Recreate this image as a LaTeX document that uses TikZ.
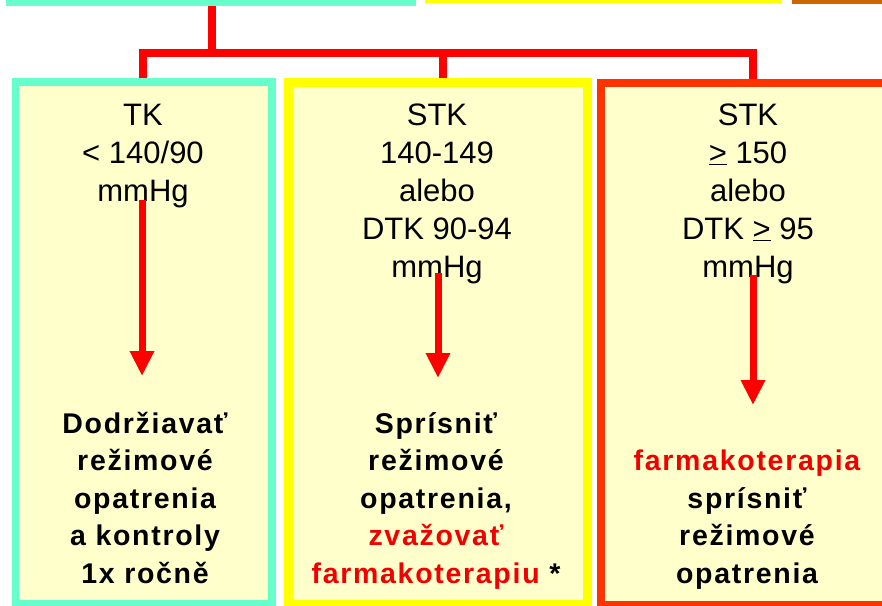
\documentclass[tikz,border=0pt]{standalone}
\usepackage{fontspec}
\setmainfont{Liberation Sans}
\newfontfamily\widefont{Liberation Sans}[LetterSpace=6]
\usetikzlibrary{arrows.meta}
\definecolor{boxfill}{HTML}{FFFFCC}
\definecolor{aqua}{HTML}{66FFCC}
\definecolor{lemon}{HTML}{FFFF00}
\definecolor{scarlet}{HTML}{FF3300}
\definecolor{rust}{HTML}{CC6600}
\definecolor{linered}{HTML}{FF0000}
\definecolor{textred}{HTML}{F00000}

\begin{document}
\begin{tikzpicture}[x=1pt,y=-1pt,
  panel/.style={draw, fill=boxfill, rectangle, anchor=north west,
                inner sep=0pt, outer sep=0pt, minimum height=522pt},
  conn/.style={draw=linered, line width=8pt, line join=miter},
  flow/.style={draw=linered, line width=7pt,
               -{Triangle[length=25pt,width=23pt]}},
  cond/.style={anchor=north, inner sep=0pt, align=center,
               font=\fontsize{31}{38}\selectfont},
  act/.style={anchor=north, inner sep=0pt, align=center,
              font=\widefont\bfseries\fontsize{28.5}{37.5}\selectfont},
  hot/.style={color=textred}
]
\useasboundingbox (0,0) rectangle (882,605);
\clip (0,0) rectangle (882,605);

% lower edges of the boxes of the level above
\fill[aqua]  (6,-4)   rectangle (416,6);
\fill[lemon] (425,-4) rectangle (782,3);
\fill[rust]  (792,-4) rectangle (890,4);

% connection points
\coordinate (top) at (212,6);
\coordinate (jn)  at (212,53);
\coordinate (b1)  at (143,84);
\coordinate (b2)  at (443,84);
\coordinate (b3)  at (753,84);

% tree of connectors
\draw[conn] (top) -- (jn);
\draw[conn] (b1) -- (b1 |- jn) -- (b3 |- jn) -- (b3);
\draw[conn] (b2 |- jn) -- (b2);

% the three boxes
\node[panel, draw=aqua,    line width=7.5pt, minimum width=256.5pt] (box1) at (15.5,82) {};
\node[panel, draw=lemon,   line width=9pt,   minimum width=299pt]   (box2) at (288,82) {};
\node[panel, draw=scarlet, line width=8pt,   minimum width=400pt]   (box3) at (601,82.5) {};

% conditions
\node[cond] (c1) at (143,95) {\rule{0pt}{30pt}TK\\< 140/90\\mmHg};
\node[cond] (c2) at (437,95) {\rule{0pt}{30pt}STK\\140-149\\alebo\\DTK 90-94\\mmHg};
\node[cond] (c3) at (748,95) {\rule{0pt}{30pt}STK\\\underline{>} 150\\alebo\\DTK \underline{>} 95\\mmHg};

% recommended actions
\node[act] (r1) at (145,403) {\rule{0pt}{30pt}Dodržiavať\\režimové\\opatrenia\\a kontroly\\1x ročně};
\node[act] (r2) at (436,403) {\rule{0pt}{30pt}Sprísniť\\režimové\\opatrenia,\\{\color{textred}zvažovať}\\{\color{textred}farmakoterapiu} *};
\node[act] (r3) at (747,440.5) {\rule{0pt}{30pt}{\color{textred}farmakoterapia}\\sprísniť\\režimové\\opatrenia};

% arrows from condition to action
\coordinate (s1) at (142,200);
\coordinate (e1) at (142,376);
\coordinate (s2) at (438,273);
\coordinate (e2) at (438,378);
\coordinate (s3) at (753,275);
\coordinate (e3) at (753,405);
\draw[flow] (s1) -- (e1);
\draw[flow] (s2) -- (e2);
\draw[flow] (s3) -- (e3);
\end{tikzpicture}
\end{document}
